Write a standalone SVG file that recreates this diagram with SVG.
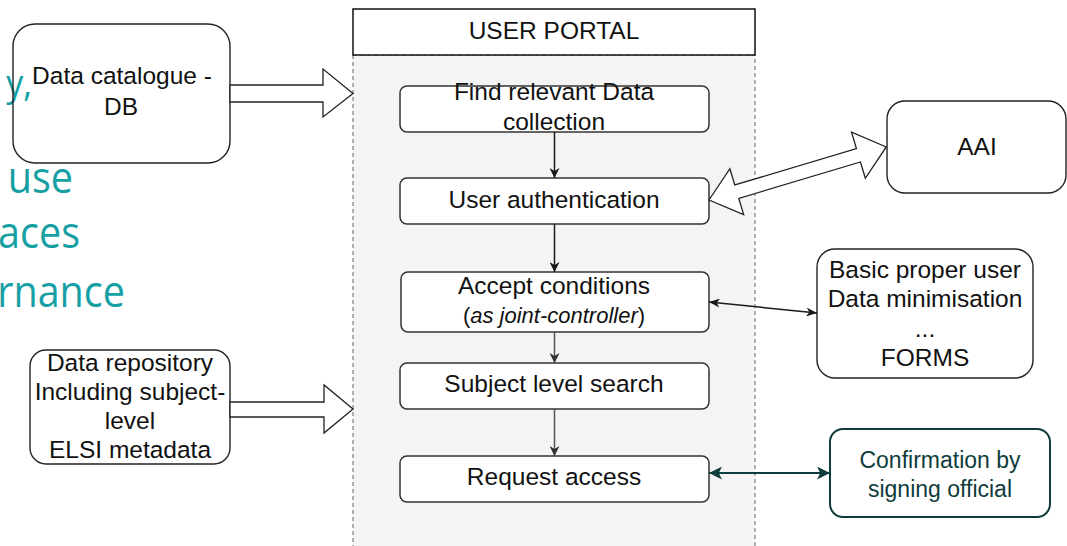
<svg xmlns="http://www.w3.org/2000/svg" width="1067" height="546" viewBox="0 0 1067 546">
  <defs>
    <style>
      .lbl { font-family: "Liberation Sans", Arial, Helvetica, sans-serif; font-size: 24.5px; fill: #111; text-anchor: middle; }
      .sub { font-size: 22px; }
      .conf { fill: #0f3c3c; font-size: 23px; }
      .teal { font-family: "Open Sans", "Noto Sans", sans-serif; fill: #17a0a4; text-anchor: end; }
      .box { fill: #fff; stroke: #222; stroke-width: 1.4; }
      .step { fill: #fff; stroke: #333; stroke-width: 1.5; }
      .fat { fill: #fff; stroke: #222; stroke-width: 1.3; stroke-linejoin: miter; }
      .edge { fill: none; stroke: #1a1a1a; stroke-width: 1.5; }
      .edge.grey { stroke: #555; }
      .edge.dark { stroke: #0f3c3c; stroke-width: 2; }
    </style>
    <marker id="head" viewBox="0 0 10 10" refX="10" refY="5" markerWidth="10" markerHeight="10" markerUnits="userSpaceOnUse" orient="auto-start-reverse">
      <path d="M0,0 L10,5 L0,10 L3,5 Z" fill="#1a1a1a"/>
    </marker>
    <marker id="headGrey" viewBox="0 0 10 10" refX="10" refY="5" markerWidth="10" markerHeight="10" markerUnits="userSpaceOnUse" orient="auto-start-reverse">
      <path d="M0,0 L10,5 L0,10 L3,5 Z" fill="#333"/>
    </marker>
    <marker id="headSmall" viewBox="0 0 12 10" refX="12" refY="5" markerWidth="12" markerHeight="9" markerUnits="userSpaceOnUse" orient="auto-start-reverse">
      <path d="M0,0 L12,5 L0,10 L3.5,5 Z" fill="#1a1a1a"/>
    </marker>
    <marker id="headDark" viewBox="0 0 12 12" refX="12" refY="6" markerWidth="13" markerHeight="13" markerUnits="userSpaceOnUse" orient="auto-start-reverse">
      <path d="M0,0 L12,6 L0,12 L3,6 Z" fill="#0f3c3c"/>
    </marker>
  </defs>

  <rect x="0" y="0" width="1067" height="546" fill="#fff"/>

  <!-- slide text running behind the diagram -->
  <g id="slide-text">
    <text class="teal" font-size="37" transform="translate(32,96) scale(0.92,1)">y,</text>
    <text class="teal" font-size="43" transform="translate(73,193) scale(0.92,1)">use</text>
    <text class="teal" font-size="43" transform="translate(80,248) scale(0.92,1)">aces</text>
    <text class="teal" font-size="43" transform="translate(125,307) scale(0.92,1)">rnance</text>
  </g>

  <!-- user portal swimlane -->
  <g id="portal">
    <rect x="353" y="55" width="402" height="510" fill="#f4f4f4" stroke="#666" stroke-width="1" stroke-dasharray="4,3"/>
    <rect x="353" y="9" width="402" height="46" fill="#fff" stroke="#111" stroke-width="1.5"/>
    <text class="lbl" x="554" y="39">USER PORTAL</text>
  </g>

  <g id="data-catalogue">
    <rect x="13" y="24" width="217" height="139" rx="22" fill="none" stroke="#222" stroke-width="1.4"/>
    <text class="lbl" x="122" y="84">Data catalogue -</text>
    <text class="lbl" x="121" y="115">DB</text>
  </g>

  <g id="data-repository">
    <rect class="box" x="30" y="350" width="200" height="114" rx="16"/>
    <text class="lbl" x="130" y="371">Data repository</text>
    <text class="lbl" x="130" y="400">Including subject-</text>
    <text class="lbl" x="130" y="429">level</text>
    <text class="lbl" x="130" y="458">ELSI metadata</text>
  </g>

  <g id="find-collection">
    <rect class="step" x="400" y="86" width="309" height="46" rx="7"/>
    <text class="lbl" x="554" y="100">Find relevant Data</text>
    <text class="lbl" x="554" y="130">collection</text>
  </g>

  <g id="user-authentication">
    <rect class="step" x="400" y="178" width="309" height="46" rx="7"/>
    <text class="lbl" x="554" y="208">User authentication</text>
  </g>

  <g id="accept-conditions">
    <rect class="step" x="401" y="272" width="308" height="60" rx="7"/>
    <text class="lbl" x="554" y="294">Accept conditions</text>
    <text class="lbl sub" x="554" y="323">(<tspan font-style="italic">as joint-controller</tspan>)</text>
  </g>

  <g id="subject-search">
    <rect class="step" x="400" y="363" width="309" height="46" rx="7"/>
    <text class="lbl" x="554" y="392">Subject level search</text>
  </g>

  <g id="request-access">
    <rect class="step" x="400" y="456" width="309" height="46" rx="7"/>
    <text class="lbl" x="554" y="485">Request access</text>
  </g>

  <g id="aai">
    <rect class="box" x="887" y="101" width="179" height="92" rx="18"/>
    <text class="lbl" x="977" y="155">AAI</text>
  </g>

  <g id="user-rules">
    <rect class="box" x="817" y="249" width="216" height="129" rx="18"/>
    <text class="lbl" x="925" y="278">Basic proper user</text>
    <text class="lbl" x="925" y="307">Data minimisation</text>
    <text class="lbl" x="925" y="337">...</text>
    <text class="lbl" x="925" y="366">FORMS</text>
  </g>

  <g id="signing-official">
    <rect x="830" y="429" width="220" height="88" rx="13" fill="#fff" stroke="#0f3c3c" stroke-width="2"/>
    <text class="lbl conf" x="940" y="468">Confirmation by</text>
    <text class="lbl conf" x="940" y="497">signing official</text>
  </g>

  <!-- connectors -->
  <g id="connectors">
    <!-- hollow block arrows into the portal -->
    <polygon class="fat" points="230,85 323,85 323,69 353,93.5 323,117 323,102 230,102"/>
    <polygon class="fat" points="230,402 324,402 324,385 353,409 324,433 324,417 230,417"/>
    <!-- two-way hollow arrow between authentication and AAI -->
    <polygon class="fat" transform="translate(709,200) rotate(-16.67)" points="0,0 29,-24 29,-7 156,-7 156,-24 185,0 156,24 156,7 29,7 29,24"/>

    <!-- flow through the portal steps -->
    <line class="edge" x1="554.5" y1="132" x2="554.5" y2="178" marker-end="url(#head)"/>
    <line class="edge" x1="554.5" y1="224" x2="554.5" y2="272" marker-end="url(#head)"/>
    <line class="edge grey" x1="554.5" y1="332" x2="554.5" y2="363" marker-end="url(#headGrey)"/>
    <line class="edge grey" x1="554.5" y1="409" x2="554.5" y2="456" marker-end="url(#headGrey)"/>

    <!-- side links -->
    <line class="edge" x1="709" y1="302" x2="817" y2="313" stroke-width="1.2" marker-start="url(#headSmall)" marker-end="url(#headSmall)"/>
    <line class="edge dark" x1="709" y1="473" x2="830" y2="473" marker-start="url(#headDark)" marker-end="url(#headDark)"/>
  </g>
</svg>
